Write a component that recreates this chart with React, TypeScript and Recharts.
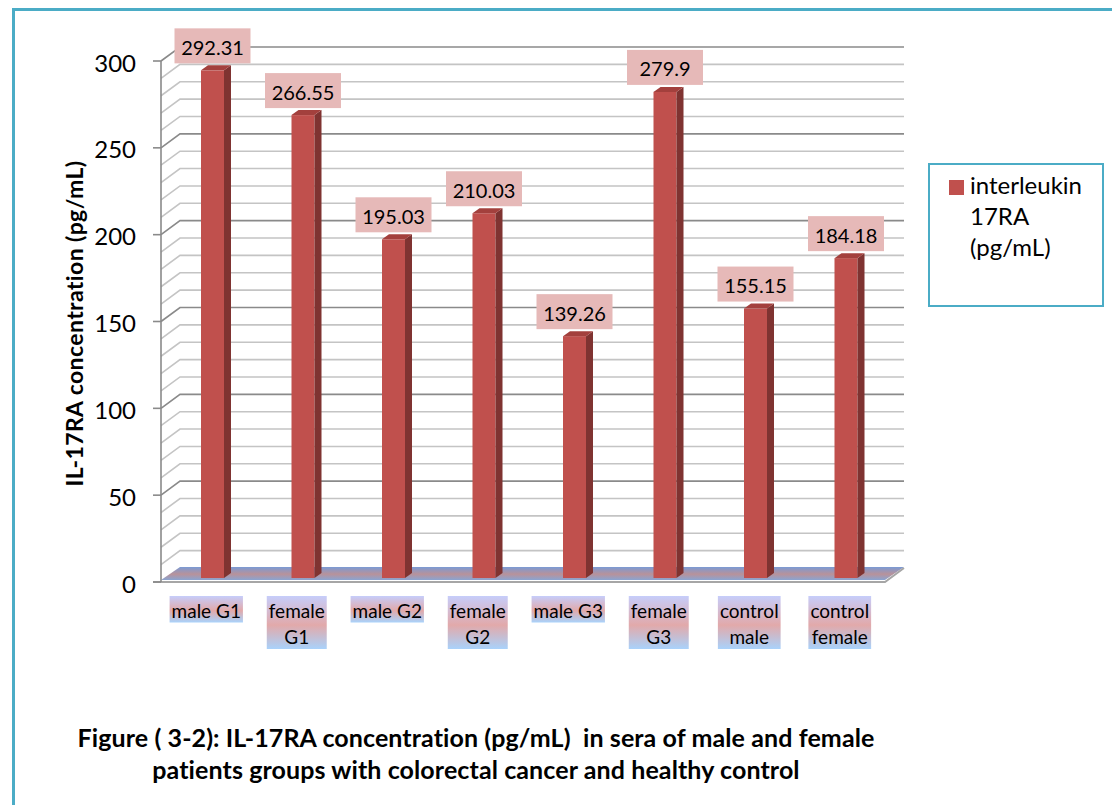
import React from "react";
import {
  BarChart, Bar, XAxis, YAxis, CartesianGrid, Legend, LabelList,
} from "recharts";

const categories = [
  "male G1", "female G1", "male G2", "female G2",
  "male G3", "female G3", "control male", "control female",
];
const tickLines = [
  ["male G1"], ["female", "G1"], ["male G2"], ["female", "G2"],
  ["male G3"], ["female", "G3"], ["control", "male"], ["control", "female"],
];
const il17ra = [292.31, 266.55, 195.03, 210.03, 139.26, 279.9, 155.15, 184.18];
const yTicks = [0, 10, 20, 30, 40, 50, 60, 70, 80, 90, 100, 110, 120, 130, 140, 150,
  160, 170, 180, 190, 200, 210, 220, 230, 240, 250, 260, 270, 280, 290, 300];
const seriesName = "interleukin 17RA (pg/mL)";

const data = categories.map((c, i) => ({ name: c, value: il17ra[i], lines: tickLines[i] }));

const FONT = "Lato, 'Open Sans', sans-serif";
const TEAL = "#4bacc6";
// wall depth (back wall offset from the front plane)
const WX = 19;
const WY = 14;
// bars sit a little behind the front plane
const BX = 6;
const BY = 4;
// bar's own depth
const DX = 7;
const DY = 5;

const ctx = typeof document !== "undefined" ? document.createElement("canvas").getContext("2d") : null;
const measure = (s: string, font: string) => {
  if (!ctx) return s.length * 9;
  ctx.font = font;
  return ctx.measureText(s).width;
};

function Bar3D(props: any) {
  const { x, y, width, height } = props;
  const fx = x + BX;
  const fy = y - BY;
  return (
    <g>
      <rect x={fx} y={fy} width={width} height={height} fill="#c0504d" />
      <polygon
        points={`${fx + width},${fy} ${fx + width + DX},${fy - DY} ${fx + width + DX},${fy + height - DY} ${fx + width},${fy + height}`}
        fill="#7f3331"
      />
      <polygon
        points={`${fx},${fy} ${fx + DX},${fy - DY} ${fx + width + DX},${fy - DY} ${fx + width},${fy}`}
        fill="#a3403d"
      />
    </g>
  );
}

function ValueLabel(props: any) {
  const { x, y, width, value } = props;
  const cx = x + BX + width / 2;
  const bottom = y - BY - 7;
  const w = 76;
  const h = 35;
  return (
    <g>
      <rect x={cx - w / 2} y={bottom - h} width={w} height={h} fill="#e6b9b8" />
      <text x={cx} y={bottom - h / 2 + 1} textAnchor="middle" dominantBaseline="central"
        fontFamily={FONT} fontSize={20} fill="#000">{value}</text>
    </g>
  );
}

// back wall grid: diagonal from the axis, then across the wall; the zero line becomes the floor
function WallLine(props: any) {
  const { x1, y1, x2, index } = props;
  if (index === 0) {
    return (
      <g key={props.key}>
        <defs>
          <linearGradient id="floorFill" x1="0" y1="0" x2="0" y2="1">
            <stop offset="0%" stopColor="#7b9ad4" />
            <stop offset="55%" stopColor="#b8929a" />
            <stop offset="100%" stopColor="#8aa4d2" />
          </linearGradient>
        </defs>
        <polygon
          points={`${x1},${y1 - 2} ${x2},${y1 - 2} ${x2 + WX},${y1 - WY - 1} ${x1 + WX},${y1 - WY - 1}`}
          fill="url(#floorFill)"
        />
        <polyline points={`${x1 - 8},${y1} ${x2},${y1} ${x2 + WX},${y1 - WY}`}
          fill="none" stroke="#a6a6a6" strokeWidth={2} />
      </g>
    );
  }
  const major = index % 5 === 0;
  return (
    <polyline
      key={props.key}
      points={`${x1},${y1} ${x1 + WX},${y1 - WY} ${x2 + WX},${y1 - WY}`}
      fill="none"
      stroke={major ? "#8a8a8a" : "#c4c4c4"}
      strokeWidth={1.6}
    />
  );
}

function YTick(props: any) {
  const { x, y, payload } = props;
  if (payload.value % 50 !== 0) return <g />;
  return (
    <g>
      <line x1={x - 8} y1={y} x2={x} y2={y} stroke="#8a8a8a" strokeWidth={1.6} />
      <text x={x - 25} y={y + 1} textAnchor="end" dominantBaseline="central"
        fontFamily={FONT} fontSize={24} fill="#000">{payload.value}</text>
    </g>
  );
}

function XTick(props: any) {
  const { x, y, index } = props;
  const lines = tickLines[index] ?? [];
  const font = `19px ${FONT}`;
  const w = Math.max(...lines.map((l) => measure(l, font))) + 4;
  const lh = 26.5;
  const top = y + 14;
  const h = lines.length * lh;
  const gid = `tickFill${index}`;
  return (
    <g>
      <defs>
        <linearGradient id={gid} x1="0" y1="0" x2="0" y2="1">
          <stop offset="0%" stopColor="#c6cdfa" />
          <stop offset="55%" stopColor="#e2a9aa" />
          <stop offset="100%" stopColor="#a9d2fb" />
        </linearGradient>
      </defs>
      <rect x={x - w / 2} y={top} width={w} height={h} fill={`url(#${gid})`} />
      {lines.map((l, i) => (
        <text key={i} x={x} y={top + lh * i + lh / 2 + 1} textAnchor="middle" dominantBaseline="central"
          fontFamily={FONT} fontSize={19} fill="#000">{l}</text>
      ))}
    </g>
  );
}

function LegendBox(props: any) {
  const item = props.payload?.[0];
  const words = String(item?.value ?? seriesName).split(" ");
  return (
    <div style={{
      width: 176, height: 144, boxSizing: "border-box", border: `2.5px solid ${TEAL}`,
      background: "#fff", position: "relative", fontFamily: FONT, fontSize: 24, color: "#000",
    }}>
      <div style={{ position: "absolute", left: 18.5, top: 14.5, width: 15, height: 15, background: "#c0504d" }} />
      <div style={{ position: "absolute", left: 40, top: 4, lineHeight: "31px", textAlign: "left" }}>
        {words.map((w, i) => <div key={i}>{w}</div>)}
      </div>
    </div>
  );
}

export default function App() {
  return (
    <div style={{ position: "absolute", left: 0, top: 0, width: 1112, height: 805, background: "#fff", overflow: "hidden" }}>
      <div style={{
        position: "absolute", left: 12, top: 8, width: 1200, height: 900,
        borderLeft: `3.5px solid ${TEAL}`, borderTop: `3.5px solid ${TEAL}`,
      }} />
      <BarChart
        width={1112}
        height={805}
        data={data}
        margin={{ top: 61, right: 227, bottom: 163, left: 101 }}
        style={{ position: "absolute", left: 0, top: 0 }}
      >
        <CartesianGrid vertical={false} horizontal={WallLine} />
        <XAxis dataKey="name" axisLine={false} tickLine={false} tickSize={0} tickMargin={0}
          height={60} interval={0} tick={XTick} />
        <YAxis
          domain={[0, 300]}
          ticks={yTicks}
          interval={0}
          width={60}
          tickLine={false}
          tickSize={0}
          tickMargin={0}
          axisLine={{ stroke: "#8a8a8a", strokeWidth: 1.6 }}
          tick={YTick}
          label={(p: any) => {
            const vb = p.viewBox ?? { x: 101, y: 61, width: 60, height: 521 };
            const cx = 74;
            const cy = vb.y + vb.height / 2 + 2;
            return (
              <text x={cx} y={cy} transform={`rotate(-90 ${cx} ${cy})`} textAnchor="middle"
                dominantBaseline="central" fontFamily={FONT} fontWeight={700} fontSize={23}
                letterSpacing={0.4} fill="#000">
                IL-17RA concentration (pg/mL)
              </text>
            );
          }}
        />
        <Legend
          layout="vertical"
          align="center"
          verticalAlign="middle"
          content={LegendBox}
          wrapperStyle={{ left: 928, top: 163, width: 176, height: 144 }}
        />
        <Bar dataKey="value" name={seriesName} fill="#c0504d" barSize={23}
          shape={Bar3D} isAnimationActive={false}>
          <LabelList dataKey="value" content={ValueLabel} />
        </Bar>
      </BarChart>
      <div style={{
        position: "absolute", left: 0, width: 952, top: 721, textAlign: "center",
        fontFamily: FONT, fontWeight: 700, fontSize: 25, lineHeight: "32px", color: "#000",
        letterSpacing: 0.1,
      }}>
        <div>Figure ( 3-2): IL-17RA concentration (pg/mL)&nbsp; in sera of male and female</div>
        <div>patients groups with colorectal cancer and healthy control</div>
      </div>
    </div>
  );
}
